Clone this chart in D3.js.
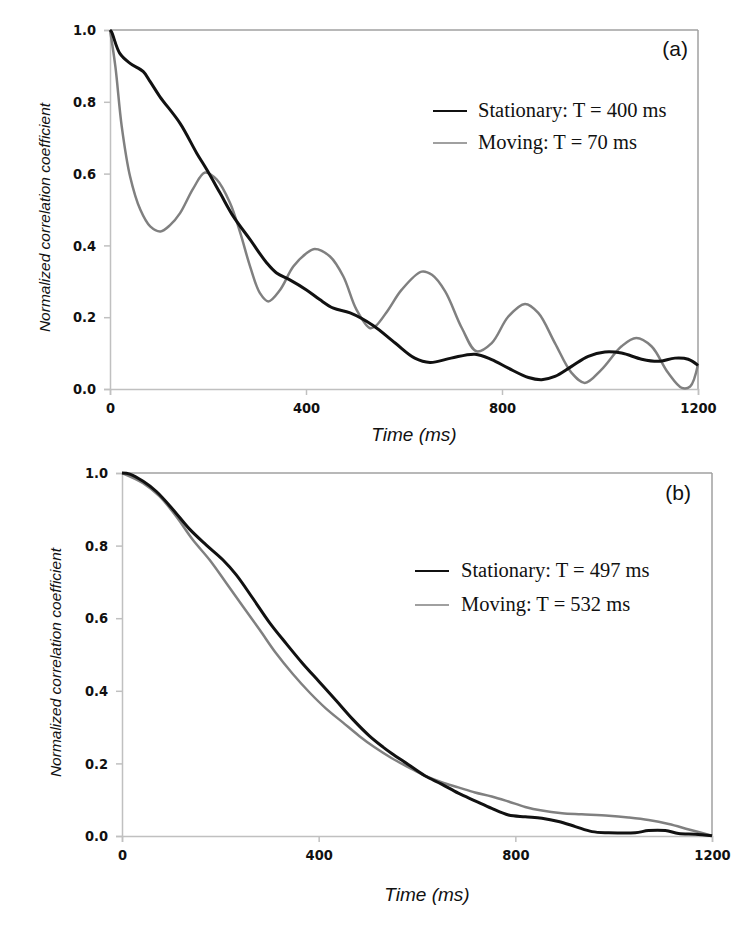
<!DOCTYPE html>
<html>
<head>
<meta charset="utf-8">
<script src="https://cdn.jsdelivr.net/npm/d3@7"></script>
<style>
html,body{margin:0;padding:0;background:#fff;}
svg{display:block;}
</style>
</head>
<body>
<svg id="chart" width="750" height="930"></svg>
<script>
// ---- Data ----
const xTicks = [0, 400, 800, 1200];
const yTicks = [0, 0.2, 0.4, 0.6, 0.8, 1.0];

// Panel (a) stationary
const aStatT = [0,3,20,41,68,82,102,143,177,198,225,252,286,320,340,367,401,428,456,490,537,582,622,653,696,745,779,813,854,881,908,942,976,1010,1044,1085,1119,1153,1180,1200];
const aStatV = [1.0,0.995,0.935,0.907,0.884,0.856,0.814,0.740,0.657,0.610,0.545,0.480,0.416,0.351,0.323,0.304,0.276,0.249,0.225,0.212,0.177,0.128,0.086,0.074,0.086,0.097,0.082,0.058,0.032,0.026,0.035,0.063,0.091,0.103,0.100,0.083,0.077,0.086,0.083,0.066];
// Panel (a) moving
const aMovT = [0,11,24,41,62,82,103,123,143,170,194,218,245,266,286,306,323,347,374,401,418,449,476,503,530,541,568,595,636,657,684,718,748,779,813,847,874,908,942,969,1003,1044,1074,1105,1139,1167,1184,1200];
const aMovV = [1.0,0.898,0.731,0.592,0.499,0.453,0.439,0.457,0.490,0.559,0.603,0.583,0.518,0.434,0.341,0.267,0.244,0.276,0.341,0.378,0.390,0.369,0.314,0.221,0.170,0.174,0.221,0.276,0.327,0.318,0.272,0.170,0.105,0.128,0.202,0.237,0.212,0.128,0.045,0.017,0.054,0.119,0.142,0.119,0.045,0.003,0.007,0.068];
// Panel (b) stationary
const bStatT = [0,16,43,70,104,137,171,205,232,266,300,334,367,401,435,469,503,531,548,582,616,650,684,718,752,786,820,854,888,922,956,990,1044,1071,1105,1132,1166,1200];
const bStatV = [1.0,0.997,0.977,0.949,0.899,0.846,0.802,0.761,0.720,0.655,0.588,0.530,0.476,0.425,0.374,0.322,0.276,0.245,0.228,0.197,0.166,0.143,0.118,0.097,0.076,0.058,0.053,0.049,0.040,0.026,0.012,0.009,0.009,0.015,0.015,0.007,0.005,0.001];
// Panel (b) moving
const bMovT = [0,43,76,110,144,178,212,246,280,313,347,381,415,449,483,513,548,582,616,650,684,718,752,786,820,854,895,935,990,1030,1071,1112,1153,1200];
const bMovV = [1.0,0.972,0.936,0.881,0.816,0.761,0.697,0.632,0.568,0.504,0.447,0.396,0.351,0.313,0.275,0.245,0.215,0.190,0.166,0.148,0.134,0.120,0.109,0.095,0.080,0.070,0.063,0.060,0.056,0.051,0.044,0.033,0.018,0.001];

const panels = [
  {
    label: "(a)", x0: 110, x1: 698, y0: 30, y1: 389,
    series: [
      {t: aStatT, v: aStatV, name: "Stationary: T = 400 ms", color: "#111", w: 3},
      {t: aMovT, v: aMovV, name: "Moving: T = 70 ms", color: "#808080", w: 2.5}
    ],
    legX: 433, legTextX: 478, legY: [117, 149], labX: 688, labY: 56,
    yTitleX: 45, xTitleY: 441
  },
  {
    label: "(b)", x0: 122, x1: 712, y0: 473, y1: 836,
    series: [
      {t: bStatT, v: bStatV, name: "Stationary: T = 497 ms", color: "#111", w: 3},
      {t: bMovT, v: bMovV, name: "Moving: T = 532 ms", color: "#808080", w: 2.5}
    ],
    legX: 415, legTextX: 461, legY: [577, 611], labX: 691, labY: 500,
    yTitleX: 56, xTitleY: 901
  }
];

const svg = d3.select("#chart");
const tickFont = '"Liberation Sans Narrow","DejaVu Sans Condensed","DejaVu Sans",sans-serif';

panels.forEach(p => {
  const x = d3.scaleLinear().domain([0, 1200]).range([p.x0, p.x1]);
  const y = d3.scaleLinear().domain([0, 1]).range([p.y1, p.y0]);
  const g = svg.append("g");

  // frame top/right
  g.append("line").attr("x1", p.x0).attr("x2", p.x1).attr("y1", p.y0).attr("y2", p.y0)
    .attr("stroke", "#a0a0a0").attr("stroke-width", 1.5);
  g.append("line").attr("x1", p.x1).attr("x2", p.x1).attr("y1", p.y0).attr("y2", p.y1)
    .attr("stroke", "#a0a0a0").attr("stroke-width", 1.5);

  // axes
  const xAxis = d3.axisBottom(x).tickValues(xTicks).tickSize(6).tickFormat(d3.format("d"));
  const yAxis = d3.axisLeft(y).tickValues(yTicks).tickSize(6).tickFormat(d3.format(".1f"));
  const gx = g.append("g").attr("transform", `translate(0,${p.y1})`).call(xAxis);
  const gy = g.append("g").attr("transform", `translate(${p.x0},0)`).call(yAxis);
  [gx, gy].forEach(a => {
    a.attr("font-size", 14.5).attr("font-family", tickFont);
    a.select(".domain").attr("stroke", "#c0c0c0").attr("stroke-width", 1.5);
    a.selectAll(".tick line").attr("stroke", "#c0c0c0").attr("stroke-width", 1.5);
    a.selectAll(".tick text")
      .style("font-family", tickFont)
      .style("font-weight", "bold").style("font-size", "14.5px").attr("fill", "#111");
  });
  gx.selectAll(".tick text").attr("y", 14).attr("dy", "0.71em");
  gy.selectAll(".tick text").attr("x", -14);

  // lines
  const line = d3.line().x(d => x(d[0])).y(d => y(d[1])).curve(d3.curveCatmullRom.alpha(0.5));
  [p.series[1], p.series[0]].forEach(s => {
    const pts = s.t.map((t, i) => [t, s.v[i]]);
    g.append("path").datum(pts).attr("d", line).attr("fill", "none")
      .attr("stroke", s.color).attr("stroke-width", s.w).attr("stroke-linejoin", "round");
  });

  // legend
  p.series.forEach((s, i) => {
    g.append("line").attr("x1", p.legX).attr("x2", p.legX + 34)
      .attr("y1", p.legY[i] - 6).attr("y2", p.legY[i] - 6)
      .attr("stroke", s.color).attr("stroke-width", i === 0 ? 2 : 1.5);
    g.append("text").attr("x", p.legTextX).attr("y", p.legY[i])
      .style("font-family", '"Liberation Serif","Times New Roman",serif')
      .style("font-size", "20.5px").attr("fill", "#111").text(s.name);
  });

  // panel label
  g.append("text").attr("x", p.labX).attr("y", p.labY)
    .style("font-family", '"Liberation Sans",Arial,sans-serif').style("font-size", "21px")
    .attr("fill", "#111").attr("text-anchor", "end").text(p.label);

  // axis titles
  g.append("text").style("font-family", '"Liberation Sans",Arial,sans-serif')
    .style("font-style", "italic").style("font-size", "19px").attr("fill", "#111")
    .attr("x", (p.x0 + p.x1) / 2 + 10).attr("y", p.xTitleY).attr("text-anchor", "middle").text("Time (ms)");
  g.append("text").style("font-family", '"Liberation Sans",Arial,sans-serif')
    .style("font-style", "italic").style("font-size", "15.5px").attr("fill", "#111")
    .attr("transform", `translate(${p.yTitleX + 5},${(p.y0 + p.y1) / 2 + 8}) rotate(-90)`)
    .attr("text-anchor", "middle").text("Normalized correlation coefficient");
});
</script>
</body>
</html>
